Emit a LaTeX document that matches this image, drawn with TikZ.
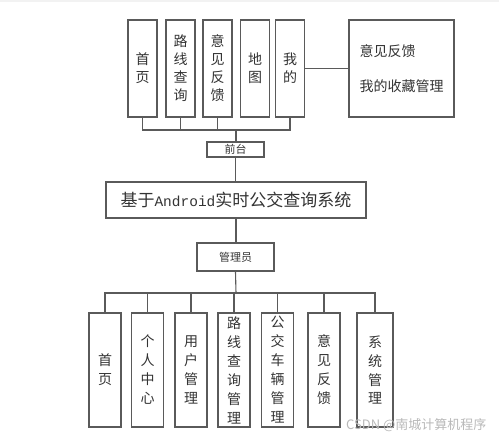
\documentclass[tikz,border=0pt]{standalone}
\usepackage{fontspec}
\setmainfont{Noto Sans CJK SC}
\newfontfamily\latinmono{Liberation Mono}
\usetikzlibrary{calc}
\definecolor{linegray}{HTML}{5A5A5A}
\definecolor{textgray}{HTML}{333333}

\begin{document}
\begin{tikzpicture}[x=1pt, y=-1pt,
    box/.style={draw=linegray, line width=1.1pt, inner sep=0pt, text=textgray, align=center},
    vbox/.style={box, minimum width=29pt, minimum height=97pt, font=\fontsize{14}{18}\selectfont},
    lbox/.style={box, minimum width=32pt, minimum height=114pt, font=\fontsize{14}{19}\selectfont},
    wire/.style={draw=linegray, line width=1.1pt}]
      \useasboundingbox (0,0) rectangle (499,438);
      \fill[gray!10] (0,0) rectangle (499,2.5);

      % front end
      \node[vbox] (shouye) at (142.5,68.5) {首\\页};
      \node[vbox] (luxian) at (180.5,68.5) {路\\线\\查\\询};
      \node[vbox] (yijian) at (217.5,68.5) {意\\见\\反\\馈};
      \node[vbox] (ditu) at (255,68.5) {地\\图};
      \node[vbox] (wode) at (290,68.5) {我\\的};
      \node[box, minimum width=105pt, minimum height=97pt, align=left,
            font=\fontsize{14}{35}\selectfont] (wodesub) at (401.5,68.5) {意见反馈\\我的收藏管理};
      \node[box, minimum width=57pt, minimum height=15pt, font=\fontsize{11}{13}\selectfont] (qiantai) at (235.5,149.5) {前台};

      % system
      \node[box, minimum width=260pt, minimum height=36pt, font=\fontsize{17}{20}\selectfont] (xitong) at (236,200)
            {基于{\latinmono\fontsize{14.5}{20}\selectfont Android}实时公交查询系统};

      % admin
      \node[box, minimum width=77pt, minimum height=28pt, font=\fontsize{11}{13}\selectfont] (guanli) at (235.5,257) {管理员};
      \node[lbox] (a1) at (105,370) {首\\页};
      \node[lbox] (a2) at (147.5,370) {个\\人\\中\\心};
      \node[lbox] (a3) at (191,370) {用\\户\\管\\理};
      \node[lbox] (a4) at (234,370) {路\\线\\查\\询\\管\\理};
      \node[lbox] (a5) at (277.5,370) {公\\交\\车\\辆\\管\\理};
      \node[lbox] (a6) at (324,370) {意\\见\\反\\馈};
      \node[lbox, minimum width=36pt] (a7) at (375,370) {系\\统\\管\\理};

      \coordinate (qbus) at (236,130);
      \coordinate (gbus) at (236,293);

      \draw[wire] (shouye.south) |- (qbus) -| (wode.south);
      \draw[wire] (luxian.south) -- (luxian.south |- qbus);
      \draw[wire] (yijian.south) -- (yijian.south |- qbus);
      \draw[wire] (qbus) -- (qbus |- qiantai.north);
      \draw[wire] (wode.east) -- (wodesub.west);
      \draw[wire] (qiantai.south) -- (qiantai.south |- xitong.north);
      \draw[wire] (xitong.south) -- (xitong.south |- guanli.north);
      \draw[wire] (guanli.south) -- (gbus);
      \draw[wire] (a1.north) |- (gbus) -| (a7.north);
      \foreach \i in {2,...,6}
        \draw[wire] (a\i.north) -- (a\i.north |- gbus);

      \node[anchor=east, text=gray!55, font=\fontsize{13}{15}\selectfont] (shuiyin) at (490,425) {CSDN @南城计算机程序};
\end{tikzpicture}
\end{document}
